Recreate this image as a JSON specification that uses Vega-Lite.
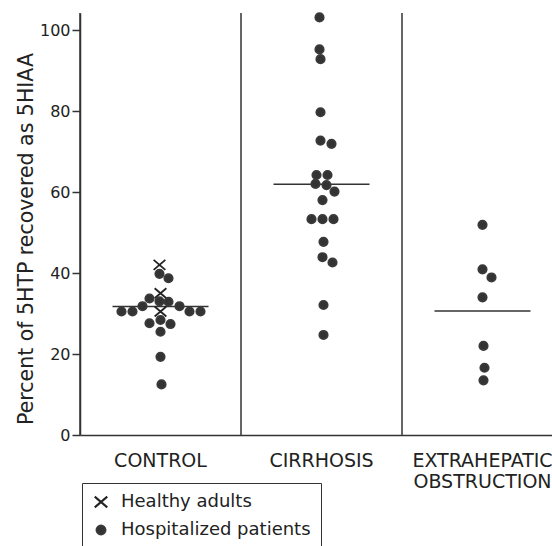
{
  "$schema": "https://vega.github.io/schema/vega-lite/v6.json",
  "width": 472,
  "height": 422,
  "autosize": {"type": "none"},
  "padding": {"left": 80, "top": 13, "right": 0, "bottom": 111},
  "background": "white",
  "config": {
    "view": {"stroke": null},
    "font": "DejaVu Sans",
    "axis": {"labelColor": "#222", "titleColor": "#222", "domainColor": "#333", "tickColor": "#333", "domainWidth": 1.5, "tickWidth": 1.5}
  },
  "datasets": {
    "points": [
      {"group": "CONTROL", "subject": "Healthy adults", "value": 42.0, "offset": -0.1},
      {"group": "CONTROL", "subject": "Healthy adults", "value": 35.0, "offset": 0},
      {"group": "CONTROL", "subject": "Healthy adults", "value": 30.5, "offset": 0},
      {"group": "CONTROL", "subject": "Hospitalized patients", "value": 39.8, "offset": -0.1},
      {"group": "CONTROL", "subject": "Hospitalized patients", "value": 38.7, "offset": 0.8},
      {"group": "CONTROL", "subject": "Hospitalized patients", "value": 33.7, "offset": -1.1},
      {"group": "CONTROL", "subject": "Hospitalized patients", "value": 33.0, "offset": -0.1},
      {"group": "CONTROL", "subject": "Hospitalized patients", "value": 32.9, "offset": 0.8},
      {"group": "CONTROL", "subject": "Hospitalized patients", "value": 31.8, "offset": -1.8},
      {"group": "CONTROL", "subject": "Hospitalized patients", "value": 31.8, "offset": 1.9},
      {"group": "CONTROL", "subject": "Hospitalized patients", "value": 30.5, "offset": -3.9},
      {"group": "CONTROL", "subject": "Hospitalized patients", "value": 30.5, "offset": -2.8},
      {"group": "CONTROL", "subject": "Hospitalized patients", "value": 30.5, "offset": 2.9},
      {"group": "CONTROL", "subject": "Hospitalized patients", "value": 30.5, "offset": 4.0},
      {"group": "CONTROL", "subject": "Hospitalized patients", "value": 27.6, "offset": -1.1},
      {"group": "CONTROL", "subject": "Hospitalized patients", "value": 28.4, "offset": 0},
      {"group": "CONTROL", "subject": "Hospitalized patients", "value": 27.4, "offset": 1.0},
      {"group": "CONTROL", "subject": "Hospitalized patients", "value": 25.5, "offset": 0},
      {"group": "CONTROL", "subject": "Hospitalized patients", "value": 19.3, "offset": 0},
      {"group": "CONTROL", "subject": "Hospitalized patients", "value": 12.5, "offset": 0.1},
      {"group": "CIRRHOSIS", "subject": "Hospitalized patients", "value": 103.1, "offset": -0.2},
      {"group": "CIRRHOSIS", "subject": "Hospitalized patients", "value": 95.2, "offset": -0.2},
      {"group": "CIRRHOSIS", "subject": "Hospitalized patients", "value": 92.8, "offset": -0.1},
      {"group": "CIRRHOSIS", "subject": "Hospitalized patients", "value": 79.7, "offset": -0.1},
      {"group": "CIRRHOSIS", "subject": "Hospitalized patients", "value": 72.7, "offset": -0.1},
      {"group": "CIRRHOSIS", "subject": "Hospitalized patients", "value": 71.9, "offset": 1.0},
      {"group": "CIRRHOSIS", "subject": "Hospitalized patients", "value": 64.2, "offset": -0.5},
      {"group": "CIRRHOSIS", "subject": "Hospitalized patients", "value": 64.2, "offset": 0.6},
      {"group": "CIRRHOSIS", "subject": "Hospitalized patients", "value": 62.0, "offset": -0.6},
      {"group": "CIRRHOSIS", "subject": "Hospitalized patients", "value": 61.7, "offset": 0.5},
      {"group": "CIRRHOSIS", "subject": "Hospitalized patients", "value": 60.1, "offset": 1.3},
      {"group": "CIRRHOSIS", "subject": "Hospitalized patients", "value": 58.0, "offset": 0.1},
      {"group": "CIRRHOSIS", "subject": "Hospitalized patients", "value": 53.3, "offset": -1.0},
      {"group": "CIRRHOSIS", "subject": "Hospitalized patients", "value": 53.3, "offset": 0.1},
      {"group": "CIRRHOSIS", "subject": "Hospitalized patients", "value": 53.3, "offset": 1.2},
      {"group": "CIRRHOSIS", "subject": "Hospitalized patients", "value": 47.7, "offset": 0.2},
      {"group": "CIRRHOSIS", "subject": "Hospitalized patients", "value": 43.9, "offset": 0.1},
      {"group": "CIRRHOSIS", "subject": "Hospitalized patients", "value": 42.6, "offset": 1.1},
      {"group": "CIRRHOSIS", "subject": "Hospitalized patients", "value": 32.1, "offset": 0.2},
      {"group": "CIRRHOSIS", "subject": "Hospitalized patients", "value": 24.7, "offset": 0.2},
      {"group": "EXTRAHEPATIC OBSTRUCTION", "subject": "Hospitalized patients", "value": 51.9, "offset": 0},
      {"group": "EXTRAHEPATIC OBSTRUCTION", "subject": "Hospitalized patients", "value": 40.9, "offset": 0},
      {"group": "EXTRAHEPATIC OBSTRUCTION", "subject": "Hospitalized patients", "value": 38.9, "offset": 0.9},
      {"group": "EXTRAHEPATIC OBSTRUCTION", "subject": "Hospitalized patients", "value": 34.0, "offset": 0},
      {"group": "EXTRAHEPATIC OBSTRUCTION", "subject": "Hospitalized patients", "value": 22.0, "offset": 0.1},
      {"group": "EXTRAHEPATIC OBSTRUCTION", "subject": "Hospitalized patients", "value": 16.6, "offset": 0.2},
      {"group": "EXTRAHEPATIC OBSTRUCTION", "subject": "Hospitalized patients", "value": 13.5, "offset": 0.1}
    ],
    "medians": [
      {"group": "CONTROL", "median": 31.7},
      {"group": "CIRRHOSIS", "median": 61.9},
      {"group": "EXTRAHEPATIC OBSTRUCTION", "median": 30.6}
    ]
  },
  "layer": [
    {
      "data": {"name": "medians"},
      "mark": {"type": "rule", "color": "#333", "strokeWidth": 1.5},
      "encoding": {
        "x": {"field": "group", "type": "nominal", "bandPosition": 0,
              "scale": {"domain": ["CONTROL", "CIRRHOSIS", "EXTRAHEPATIC OBSTRUCTION"], "range": [0, 483], "paddingInner": 0, "paddingOuter": 0}}
      }
    },
    {
      "data": {"name": "medians"},
      "mark": {"type": "tick", "orient": "horizontal", "color": "#333", "thickness": 1.5, "size": 96, "opacity": 1},
      "encoding": {
        "x": {"field": "group", "type": "nominal",
              "scale": {"domain": ["CONTROL", "CIRRHOSIS", "EXTRAHEPATIC OBSTRUCTION"], "range": [0, 483], "paddingInner": 0, "paddingOuter": 0}},
        "y": {"field": "median", "type": "quantitative"}
      }
    },
    {
      "data": {"name": "points"},
      "mark": {"type": "point", "strokeWidth": 1.8, "opacity": 1},
      "encoding": {
        "x": {"field": "group", "type": "nominal",
              "scale": {"domain": ["CONTROL", "CIRRHOSIS", "EXTRAHEPATIC OBSTRUCTION"], "range": [0, 483], "paddingInner": 0, "paddingOuter": 0},
              "axis": {"title": null, "labelAngle": 0, "labelAlign": "center", "labelBaseline": "top", "ticks": false, "tickSize": 0, "labelPadding": 16, "labelFontSize": 19, "labelLineHeight": 21.5,
                       "labelFlush": false, "labelOverlap": false, "labelBound": false, "labelLimit": 400, "grid": false,
                       "labelExpr": "datum.value == 'EXTRAHEPATIC OBSTRUCTION' ? ['EXTRAHEPATIC', 'OBSTRUCTION'] : datum.label"}},
        "xOffset": {"field": "offset", "type": "quantitative", "scale": {"domain": [-8.05, 8.05]}},
        "y": {"field": "value", "type": "quantitative",
              "scale": {"domain": [0, 104.2], "nice": false, "zero": true},
              "axis": {"title": "Percent of 5HTP recovered as 5HIAA", "values": [0, 20, 40, 60, 80, 100], "grid": false,
                       "tickSize": 8, "labelPadding": 2, "labelFontSize": 16, "titleFontSize": 20.5, "titleFontWeight": "normal",
                       "titleX": -48, "titleY": 225.5, "titleBaseline": "alphabetic"}},
        "shape": {"field": "subject", "type": "nominal",
                  "scale": {"domain": ["Healthy adults", "Hospitalized patients"], "range": ["M-1.4,-1.2L1.4,1.2M-1.4,1.2L1.4,-1.2", "circle"]},
                  "legend": {"title": null, "orient": "none", "legendX": 2, "legendY": 470, "strokeColor": "#333", "padding": 10,
                             "labelFontSize": 18, "labelColor": "#222", "labelOffset": 11, "labelLimit": 400, "rowPadding": 9, "symbolSize": 80, "symbolStrokeWidth": 2}},
        "fill": {"field": "subject", "type": "nominal",
                 "scale": {"domain": ["Healthy adults", "Hospitalized patients"], "range": ["transparent", "#333"]}},
        "stroke": {"field": "subject", "type": "nominal",
                   "scale": {"domain": ["Healthy adults", "Hospitalized patients"], "range": ["#222", "#3a3a3a"]}},
        "size": {"value": 70}
      }
    }
  ]
}
